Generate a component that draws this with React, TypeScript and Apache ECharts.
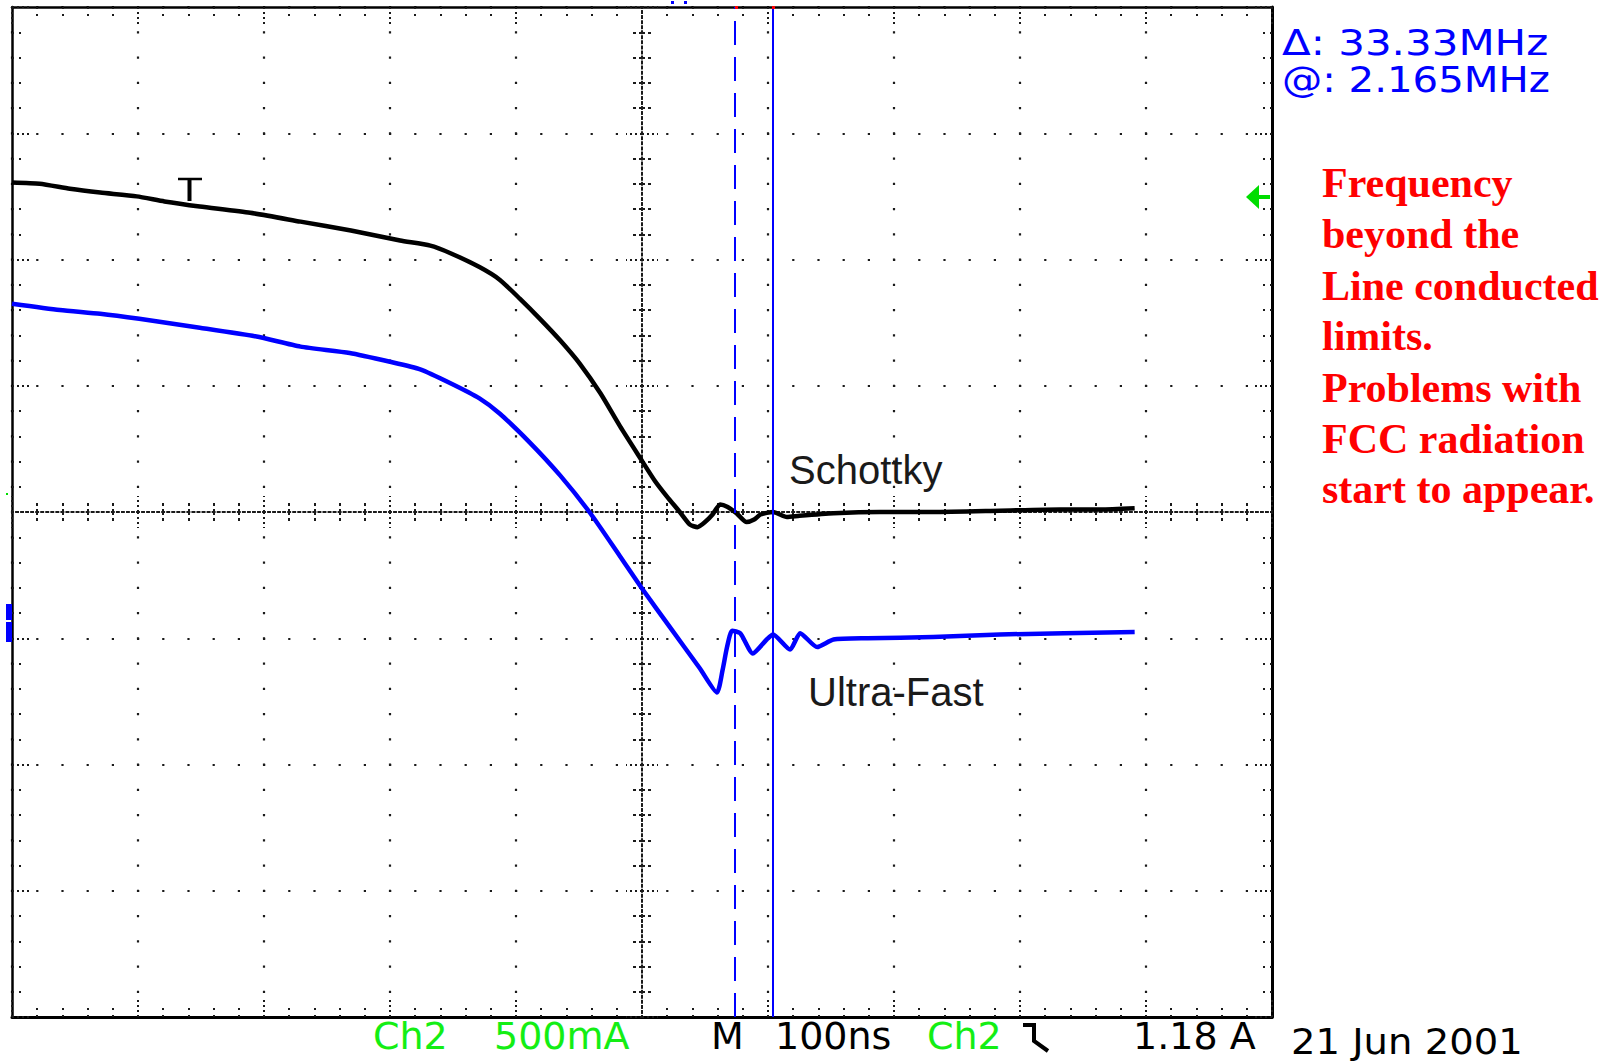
import React, { useEffect, useRef } from "react";
import * as echarts from "echarts";

// ---- data (time in ns, amplitude in screen divisions; 100 ns/div, 500 mA/div) ----
const schottkyTimeNs = [-500, -478, -454, -430, -401, -379, -351, -311, -271, -231, -192, -168, -152, -129, -113, -97, -81, -65, -49, -33, -17.5, -1.6, 10, 20, 30, 38, 44, 50, 56, 62, 68, 75, 83, 89, 94, 104, 115, 125, 152, 189, 231, 284, 332, 364, 391];
const schottkyDiv = [2.61, 2.6, 2.56, 2.53, 2.5, 2.46, 2.42, 2.37, 2.3, 2.23, 2.15, 2.11, 2.05, 1.94, 1.84, 1.69, 1.53, 1.36, 1.17, 0.94, 0.68, 0.43, 0.25, 0.12, 0.0, -0.1, -0.12, -0.08, -0.02, 0.06, 0.04, -0.01, -0.08, -0.06, -0.02, 0.0, -0.04, -0.03, -0.01, 0.0, 0.0, 0.01, 0.02, 0.02, 0.03];
const ultraFastTimeNs = [-500, -462, -430, -399, -351, -306, -271, -232, -200, -176, -152, -129, -113, -89, -65, -41, -17.5, 1, 22, 46, 59.5, 64, 67.5, 71.5, 78, 88, 99, 104, 117.5, 125.5, 139, 152, 179, 231, 284, 391];
const ultraFastDiv = [1.65, 1.6, 1.57, 1.53, 1.46, 1.39, 1.31, 1.26, 1.19, 1.13, 1.02, 0.9, 0.78, 0.55, 0.29, -0.01, -0.35, -0.62, -0.91, -1.24, -1.43, -1.25, -1.07, -0.94, -0.96, -1.12, -1.01, -0.97, -1.09, -0.96, -1.07, -1.01, -1.0, -0.99, -0.97, -0.95];
const cursorTimesNs = [74, 104];
const traceNames = ["Schottky", "Ultra-Fast"];
const cursorReadout = ["Δ: 33.33MHz", "@: 2.165MHz"];
const noteLines = ["Frequency", "beyond the", "Line conducted", "limits.", "Problems with", "FCC radiation", "start to appear."];
const statusLabels = ["Ch2", "500mA", "M", "100ns", "Ch2", "1.18 A", "21 Jun 2001"];
const xTicks = { min: -500, max: 500, interval: 100 };
const yTicks = { min: -4, max: 4, interval: 1 };

const DOT = "#1a1a1a";
const GREEN = "#14ee14";
const BLUE = "#0000ff";

function pairs(t: number[], v: number[]) {
  return t.map((x, i) => [x, v[i]]);
}

function xAxisCfg(extra: any) {
  return { type: "value", ...xTicks, axisLabel: { show: false }, splitLine: { show: false }, ...extra };
}
function yAxisCfg(extra: any) {
  return { type: "value", ...yTicks, axisLabel: { show: false }, splitLine: { show: false }, ...extra };
}

const borderTicks = {
  axisTick: { show: true, inside: true, length: 17, lineStyle: { color: DOT, width: 2, type: [2, 3] } },
  minorTick: { show: true, splitNumber: 5, length: 9, lineStyle: { color: DOT, width: 2, type: [2, 5] } },
};
const centerTicks = (inside: boolean) => ({
  axisTick: { show: true, inside, length: 16, lineStyle: { color: DOT, width: 2, type: [2, 3] } },
  minorTick: { show: true, splitNumber: 5, length: 9, lineStyle: { color: DOT, width: 2, type: [3, 3] } },
});

export default function App() {
  const ref = useRef<HTMLDivElement>(null);
  useEffect(() => {
    if (!ref.current) return;
    const chart = echarts.init(ref.current, null, { renderer: "svg" });

    const sans = '"DejaVu Sans", sans-serif';
    const txt = (text: string, x: number, baseline: number, size: number, font: string, fill: string, weight = "normal", sx = 1) => ({
      type: "text",
      x,
      y: baseline - 0.345 * size,
      scaleX: sx,
      z: 10,
      style: {
        text,
        fill,
        font: `${weight} ${size}px ${font}`,
        align: "left",
        verticalAlign: "middle",
        textAlign: "left",
        textVerticalAlign: "middle",
      },
    });

    const noteBaselines = [197, 248, 300, 350, 402, 453, 503];
    const statusX = [373, 494, 711, 775, 927, 1133, 1291];
    const statusColors = [GREEN, GREEN, "#000", "#000", GREEN, "#000", "#000"];
    const statusBase = [1049, 1049, 1049, 1049, 1049, 1049, 1054];

    const graphic: any[] = [
      txt(cursorReadout[0], 1282, 55, 35, sans, BLUE, "normal", 1.2),
      txt(cursorReadout[1], 1282, 92, 35, sans, BLUE, "normal", 1.15),
      ...noteLines.map((l, i) => txt(l, 1322, noteBaselines[i], 42, '"Liberation Serif", "Times New Roman", serif', "#ff0000", "bold")),
      txt(traceNames[0], 789, 484, 40, '"Liberation Sans", Arial, sans-serif', "#1a1a1a"),
      txt(traceNames[1], 808, 706, 40, '"Liberation Sans", Arial, sans-serif', "#1a1a1a"),
      ...statusLabels.map((l, i) => txt(l, statusX[i], statusBase[i], i === 6 ? 36 : 38, sans, statusColors[i], "normal", i === 6 ? 1.07 : 1)),
      // falling-edge trigger glyph
      { type: "polyline", z: 10, shape: { points: [[1023, 1025], [1034, 1025], [1034, 1041], [1048, 1051]] }, style: { stroke: "#000", lineWidth: 4, fill: "none" } },
      // trigger level "T" marker
      { type: "line", z: 10, shape: { x1: 178, y1: 179, x2: 202, y2: 179 }, style: { stroke: "#000", lineWidth: 2.5 } },
      { type: "line", z: 10, shape: { x1: 189.5, y1: 179, x2: 189.5, y2: 201 }, style: { stroke: "#000", lineWidth: 4 } },
      // green trigger arrow on right edge
      { type: "polygon", z: 10, shape: { points: [[1246, 197], [1259, 185], [1259, 209]] }, style: { fill: "#00dd00" } },
      { type: "rect", z: 10, shape: { x: 1258, y: 195, width: 12, height: 4 }, style: { fill: "#00dd00" } },
      // channel ground marker on left edge
      { type: "rect", z: 10, shape: { x: 6, y: 604, width: 6, height: 16 }, style: { fill: BLUE } },
      { type: "rect", z: 10, shape: { x: 6, y: 622, width: 6, height: 20 }, style: { fill: BLUE } },
      { type: "rect", z: 10, shape: { x: 6, y: 493, width: 2, height: 2 }, style: { fill: "#00dd00" } },
      // small markers at top
      { type: "rect", z: 10, shape: { x: 671, y: 1, width: 3, height: 3 }, style: { fill: BLUE } },
      { type: "rect", z: 10, shape: { x: 684, y: 1, width: 3, height: 3 }, style: { fill: BLUE } },
      { type: "rect", z: 10, shape: { x: 735, y: 6, width: 3, height: 3 }, style: { fill: "#ff0000" } },
      { type: "rect", z: 10, shape: { x: 772, y: 6, width: 3, height: 3 }, style: { fill: "#ff0000" } },
    ];

    chart.setOption({
      animation: false,
      backgroundColor: "#ffffff",
      grid: { left: 12, top: 7, width: 1260, height: 1010, containLabel: false },
      xAxis: [
        xAxisCfg({
          position: "bottom",
          axisLine: { show: true, onZero: false, lineStyle: { color: "#000", width: 3 } },
          ...borderTicks,
          splitLine: { show: true, lineStyle: { color: DOT, width: 2.2, type: [2.2, 23.05], dashOffset: 1.1 } },
        }),
        xAxisCfg({
          position: "top",
          axisLine: { show: true, onZero: false, lineStyle: { color: "#000", width: 2.5 } },
          ...borderTicks,
        }),
        xAxisCfg({
          position: "bottom",
          axisLine: { show: true, onZero: true, onZeroAxisIndex: 0, lineStyle: { color: DOT, width: 2, type: [2, 3.04], dashOffset: 1 } },
          ...centerTicks(true),
        }),
        xAxisCfg({
          position: "bottom",
          axisLine: { show: true, onZero: true, onZeroAxisIndex: 0, lineStyle: { color: DOT, width: 2, type: [2, 3.04], dashOffset: 1 } },
          ...centerTicks(false),
        }),
      ],
      yAxis: [
        yAxisCfg({
          position: "left",
          axisLine: { show: true, onZero: false, lineStyle: { color: "#000", width: 2.5 } },
          ...borderTicks,
          splitLine: { show: true, lineStyle: { color: DOT, width: 2.2, type: [2.2, 23.0], dashOffset: 1.1 } },
        }),
        yAxisCfg({
          position: "right",
          axisLine: { show: true, onZero: false, lineStyle: { color: "#000", width: 3 } },
          ...borderTicks,
        }),
        yAxisCfg({
          position: "left",
          axisLine: { show: true, onZero: true, onZeroAxisIndex: 0, lineStyle: { color: DOT, width: 2, type: [2, 3.05], dashOffset: 1 } },
          ...centerTicks(true),
        }),
        yAxisCfg({
          position: "left",
          axisLine: { show: true, onZero: true, onZeroAxisIndex: 0, lineStyle: { color: DOT, width: 2, type: [2, 3.05], dashOffset: 1 } },
          ...centerTicks(false),
        }),
      ],
      series: [
        {
          name: traceNames[0],
          type: "line",
          xAxisIndex: 0,
          yAxisIndex: 0,
          data: pairs(schottkyTimeNs, schottkyDiv),
          showSymbol: false,
          symbol: "none",
          smooth: 0.2,
          z: 3,
          emphasis: { disabled: true },
          lineStyle: { color: "#000", width: 4.5, join: "round" },
        },
        {
          name: traceNames[1],
          type: "line",
          xAxisIndex: 0,
          yAxisIndex: 0,
          data: pairs(ultraFastTimeNs, ultraFastDiv),
          showSymbol: false,
          symbol: "none",
          smooth: 0.2,
          z: 3,
          emphasis: { disabled: true },
          lineStyle: { color: BLUE, width: 4.5, join: "round" },
          markLine: {
            silent: true,
            symbol: ["none", "none"],
            label: { show: false },
            animation: false,
            emphasis: { disabled: true },
            data: [
              { xAxis: cursorTimesNs[0], lineStyle: { color: BLUE, width: 2, type: [24, 12] } },
              { xAxis: cursorTimesNs[1], lineStyle: { color: BLUE, width: 2, type: "solid" } },
            ],
          },
        },
      ],
      graphic,
    });
    return () => chart.dispose();
  }, []);
  return <div ref={ref} style={{ position: "absolute", left: 0, top: 0, width: 1615, height: 1062, background: "#fff" }} />;
}
